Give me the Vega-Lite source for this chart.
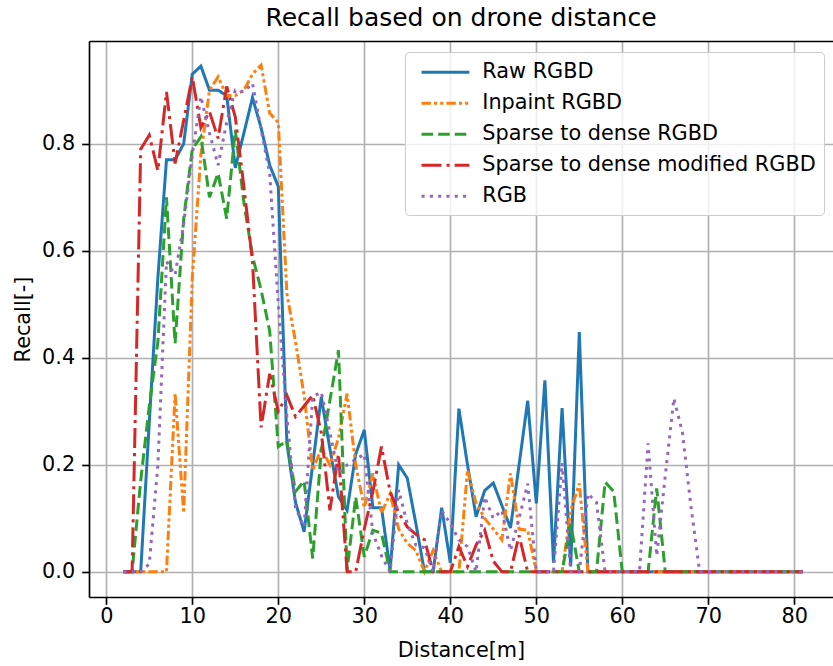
{
  "$schema": "https://vega.github.io/schema/vega-lite/v6.json",
  "width": 744,
  "height": 556,
  "autosize": {"type": "none"},
  "padding": {"left": 89, "top": 41, "right": 0, "bottom": 69},
  "background": "white",
  "title": {"text": "Recall based on drone distance", "font": "DejaVu Sans", "fontSize": 25, "fontWeight": "normal", "color": "black", "anchor": "middle", "frame": "group", "baseline": "alphabetic", "offset": 15, "dy": 25},
  "config": {
    "view": {"stroke": null},
    "axis": {"labelFont": "DejaVu Sans", "titleFont": "DejaVu Sans", "labelFontSize": 20.8, "titleFontSize": 20.8, "titleFontWeight": "normal", "labelColor": "black", "titleColor": "black", "domainColor": "black", "domainWidth": 1.67, "tickColor": "black", "tickWidth": 1.67, "tickSize": 7.3, "gridColor": "#b0b0b0", "gridWidth": 1.67, "gridOpacity": 1}
  },
  "data": {"values": [
    {"d":2,"Raw RGBD":0,"Inpaint RGBD":0,"Sparse to dense RGBD":0,"Sparse to dense modified RGBD":0,"RGB":0},
    {"d":3,"Raw RGBD":0,"Inpaint RGBD":0,"Sparse to dense RGBD":0,"Sparse to dense modified RGBD":0,"RGB":0},
    {"d":4,"Raw RGBD":0,"Inpaint RGBD":0,"Sparse to dense RGBD":0.17,"Sparse to dense modified RGBD":0.79,"RGB":0},
    {"d":5,"Raw RGBD":0.28,"Inpaint RGBD":0,"Sparse to dense RGBD":0.31,"Sparse to dense modified RGBD":0.816,"RGB":0.015},
    {"d":6,"Raw RGBD":0.55,"Inpaint RGBD":0,"Sparse to dense RGBD":0.43,"Sparse to dense modified RGBD":0.75,"RGB":0.2},
    {"d":7,"Raw RGBD":0.77,"Inpaint RGBD":0,"Sparse to dense RGBD":0.70,"Sparse to dense modified RGBD":0.897,"RGB":0.58},
    {"d":8,"Raw RGBD":0.77,"Inpaint RGBD":0.333,"Sparse to dense RGBD":0.427,"Sparse to dense modified RGBD":0.763,"RGB":0.555},
    {"d":9,"Raw RGBD":0.80,"Inpaint RGBD":0.11,"Sparse to dense RGBD":0.66,"Sparse to dense modified RGBD":0.844,"RGB":0.65},
    {"d":10,"Raw RGBD":0.93,"Inpaint RGBD":0.55,"Sparse to dense RGBD":0.79,"Sparse to dense modified RGBD":0.925,"RGB":0.78},
    {"d":11,"Raw RGBD":0.945,"Inpaint RGBD":0.78,"Sparse to dense RGBD":0.813,"Sparse to dense modified RGBD":0.83,"RGB":0.888},
    {"d":12,"Raw RGBD":0.90,"Inpaint RGBD":0.90,"Sparse to dense RGBD":0.70,"Sparse to dense modified RGBD":0.86,"RGB":0.82},
    {"d":13,"Raw RGBD":0.90,"Inpaint RGBD":0.925,"Sparse to dense RGBD":0.745,"Sparse to dense modified RGBD":0.81,"RGB":0.76},
    {"d":14,"Raw RGBD":0.89,"Inpaint RGBD":0.89,"Sparse to dense RGBD":0.66,"Sparse to dense modified RGBD":0.907,"RGB":0.84},
    {"d":15,"Raw RGBD":0.755,"Inpaint RGBD":0.89,"Sparse to dense RGBD":0.826,"Sparse to dense modified RGBD":0.85,"RGB":0.90},
    {"d":16,"Raw RGBD":0.82,"Inpaint RGBD":0.90,"Sparse to dense RGBD":0.69,"Sparse to dense modified RGBD":0.72,"RGB":0.897},
    {"d":17,"Raw RGBD":0.886,"Inpaint RGBD":0.93,"Sparse to dense RGBD":0.59,"Sparse to dense modified RGBD":0.58,"RGB":0.913},
    {"d":18,"Raw RGBD":0.83,"Inpaint RGBD":0.947,"Sparse to dense RGBD":0.527,"Sparse to dense modified RGBD":0.27,"RGB":0.826},
    {"d":19,"Raw RGBD":0.76,"Inpaint RGBD":0.857,"Sparse to dense RGBD":0.45,"Sparse to dense modified RGBD":0.37,"RGB":0.745},
    {"d":20,"Raw RGBD":0.72,"Inpaint RGBD":0.84,"Sparse to dense RGBD":0.234,"Sparse to dense modified RGBD":0.30,"RGB":0.5},
    {"d":21,"Raw RGBD":0.24,"Inpaint RGBD":0.52,"Sparse to dense RGBD":0.245,"Sparse to dense modified RGBD":0.33,"RGB":0.29},
    {"d":22,"Raw RGBD":0.13,"Inpaint RGBD":0.43,"Sparse to dense RGBD":0.15,"Sparse to dense modified RGBD":0.29,"RGB":0.12},
    {"d":23,"Raw RGBD":0.075,"Inpaint RGBD":0.33,"Sparse to dense RGBD":0.17,"Sparse to dense modified RGBD":0.31,"RGB":0.084},
    {"d":24,"Raw RGBD":0.2,"Inpaint RGBD":0.19,"Sparse to dense RGBD":0.025,"Sparse to dense modified RGBD":0.33,"RGB":0.327},
    {"d":25,"Raw RGBD":0.327,"Inpaint RGBD":0.23,"Sparse to dense RGBD":0.227,"Sparse to dense modified RGBD":0.26,"RGB":0.336},
    {"d":26,"Raw RGBD":0.23,"Inpaint RGBD":0.2,"Sparse to dense RGBD":0.32,"Sparse to dense modified RGBD":0.115,"RGB":0.26},
    {"d":27,"Raw RGBD":0.14,"Inpaint RGBD":0.25,"Sparse to dense RGBD":0.414,"Sparse to dense modified RGBD":0.22,"RGB":0.184},
    {"d":28,"Raw RGBD":0.115,"Inpaint RGBD":0.333,"Sparse to dense RGBD":0.003,"Sparse to dense modified RGBD":0,"RGB":0.2},
    {"d":29,"Raw RGBD":0.22,"Inpaint RGBD":0.2,"Sparse to dense RGBD":0.14,"Sparse to dense modified RGBD":0,"RGB":0.21},
    {"d":30,"Raw RGBD":0.265,"Inpaint RGBD":0.12,"Sparse to dense RGBD":0.028,"Sparse to dense modified RGBD":0.08,"RGB":0.22},
    {"d":31,"Raw RGBD":0.12,"Inpaint RGBD":0.184,"Sparse to dense RGBD":0.078,"Sparse to dense modified RGBD":0.15,"RGB":0.072},
    {"d":32,"Raw RGBD":0.12,"Inpaint RGBD":0.11,"Sparse to dense RGBD":0.072,"Sparse to dense modified RGBD":0.234,"RGB":0.03},
    {"d":33,"Raw RGBD":0.003,"Inpaint RGBD":0.146,"Sparse to dense RGBD":0,"Sparse to dense modified RGBD":0.15,"RGB":0},
    {"d":34,"Raw RGBD":0.2,"Inpaint RGBD":0.08,"Sparse to dense RGBD":0,"Sparse to dense modified RGBD":0.11,"RGB":0.153},
    {"d":35,"Raw RGBD":0.175,"Inpaint RGBD":0.053,"Sparse to dense RGBD":0,"Sparse to dense modified RGBD":0.084,"RGB":0.09},
    {"d":36,"Raw RGBD":0.09,"Inpaint RGBD":0.04,"Sparse to dense RGBD":0,"Sparse to dense modified RGBD":0.07,"RGB":0.05},
    {"d":37,"Raw RGBD":0,"Inpaint RGBD":0,"Sparse to dense RGBD":0,"Sparse to dense modified RGBD":0.06,"RGB":0.045},
    {"d":38,"Raw RGBD":0,"Inpaint RGBD":0.04,"Sparse to dense RGBD":0,"Sparse to dense modified RGBD":0,"RGB":0},
    {"d":39,"Raw RGBD":0.12,"Inpaint RGBD":0,"Sparse to dense RGBD":0,"Sparse to dense modified RGBD":0,"RGB":0.115},
    {"d":40,"Raw RGBD":0.017,"Inpaint RGBD":0,"Sparse to dense RGBD":0,"Sparse to dense modified RGBD":0,"RGB":0.09},
    {"d":41,"Raw RGBD":0.305,"Inpaint RGBD":0,"Sparse to dense RGBD":0,"Sparse to dense modified RGBD":0.047,"RGB":0.06},
    {"d":42,"Raw RGBD":0.2,"Inpaint RGBD":0.19,"Sparse to dense RGBD":0,"Sparse to dense modified RGBD":0.01,"RGB":0.047},
    {"d":43,"Raw RGBD":0.103,"Inpaint RGBD":0.128,"Sparse to dense RGBD":0,"Sparse to dense modified RGBD":0.05,"RGB":0},
    {"d":44,"Raw RGBD":0.152,"Inpaint RGBD":0.1,"Sparse to dense RGBD":0,"Sparse to dense modified RGBD":0.078,"RGB":0.14},
    {"d":45,"Raw RGBD":0.166,"Inpaint RGBD":0.08,"Sparse to dense RGBD":0,"Sparse to dense modified RGBD":0.02,"RGB":0.1},
    {"d":46,"Raw RGBD":0.124,"Inpaint RGBD":0.06,"Sparse to dense RGBD":0,"Sparse to dense modified RGBD":0,"RGB":0.115},
    {"d":47,"Raw RGBD":0.082,"Inpaint RGBD":0.184,"Sparse to dense RGBD":0,"Sparse to dense modified RGBD":0,"RGB":0.04},
    {"d":48,"Raw RGBD":0.2,"Inpaint RGBD":0.08,"Sparse to dense RGBD":0,"Sparse to dense modified RGBD":0.068,"RGB":0.1},
    {"d":49,"Raw RGBD":0.32,"Inpaint RGBD":0.078,"Sparse to dense RGBD":0,"Sparse to dense modified RGBD":0,"RGB":0.165},
    {"d":50,"Raw RGBD":0.128,"Inpaint RGBD":0,"Sparse to dense RGBD":0,"Sparse to dense modified RGBD":0,"RGB":0},
    {"d":51,"Raw RGBD":0.358,"Inpaint RGBD":0,"Sparse to dense RGBD":0,"Sparse to dense modified RGBD":0,"RGB":0},
    {"d":52,"Raw RGBD":0.017,"Inpaint RGBD":0,"Sparse to dense RGBD":0,"Sparse to dense modified RGBD":0,"RGB":0},
    {"d":53,"Raw RGBD":0.306,"Inpaint RGBD":0,"Sparse to dense RGBD":0,"Sparse to dense modified RGBD":0,"RGB":0.203},
    {"d":54,"Raw RGBD":0.01,"Inpaint RGBD":0.115,"Sparse to dense RGBD":0.09,"Sparse to dense modified RGBD":0,"RGB":0},
    {"d":55,"Raw RGBD":0.448,"Inpaint RGBD":0.165,"Sparse to dense RGBD":0,"Sparse to dense modified RGBD":0,"RGB":0},
    {"d":56,"Raw RGBD":0,"Inpaint RGBD":0,"Sparse to dense RGBD":0,"Sparse to dense modified RGBD":0,"RGB":0.146},
    {"d":57,"Raw RGBD":0,"Inpaint RGBD":0,"Sparse to dense RGBD":0,"Sparse to dense modified RGBD":0,"RGB":0.13},
    {"d":58,"Raw RGBD":0,"Inpaint RGBD":0,"Sparse to dense RGBD":0.168,"Sparse to dense modified RGBD":0,"RGB":0},
    {"d":59,"Raw RGBD":0,"Inpaint RGBD":0,"Sparse to dense RGBD":0.15,"Sparse to dense modified RGBD":0,"RGB":0},
    {"d":60,"Raw RGBD":0,"Inpaint RGBD":0,"Sparse to dense RGBD":0,"Sparse to dense modified RGBD":0,"RGB":0},
    {"d":61,"Raw RGBD":0,"Inpaint RGBD":0,"Sparse to dense RGBD":0,"Sparse to dense modified RGBD":0,"RGB":0},
    {"d":62,"Raw RGBD":0,"Inpaint RGBD":0,"Sparse to dense RGBD":0,"Sparse to dense modified RGBD":0,"RGB":0},
    {"d":63,"Raw RGBD":0,"Inpaint RGBD":0,"Sparse to dense RGBD":0,"Sparse to dense modified RGBD":0,"RGB":0.24},
    {"d":64,"Raw RGBD":0,"Inpaint RGBD":0,"Sparse to dense RGBD":0.156,"Sparse to dense modified RGBD":0,"RGB":0.03},
    {"d":65,"Raw RGBD":0,"Inpaint RGBD":0,"Sparse to dense RGBD":0,"Sparse to dense modified RGBD":0,"RGB":0.18},
    {"d":66,"Raw RGBD":0,"Inpaint RGBD":0,"Sparse to dense RGBD":0,"Sparse to dense modified RGBD":0,"RGB":0.324},
    {"d":67,"Raw RGBD":0,"Inpaint RGBD":0,"Sparse to dense RGBD":0,"Sparse to dense modified RGBD":0,"RGB":0.26},
    {"d":68,"Raw RGBD":0,"Inpaint RGBD":0,"Sparse to dense RGBD":0,"Sparse to dense modified RGBD":0,"RGB":0.12},
    {"d":69,"Raw RGBD":0,"Inpaint RGBD":0,"Sparse to dense RGBD":0,"Sparse to dense modified RGBD":0,"RGB":0},
    {"d":70,"Raw RGBD":0,"Inpaint RGBD":0,"Sparse to dense RGBD":0,"Sparse to dense modified RGBD":0,"RGB":0},
    {"d":71,"Raw RGBD":0,"Inpaint RGBD":0,"Sparse to dense RGBD":0,"Sparse to dense modified RGBD":0,"RGB":0},
    {"d":72,"Raw RGBD":0,"Inpaint RGBD":0,"Sparse to dense RGBD":0,"Sparse to dense modified RGBD":0,"RGB":0},
    {"d":73,"Raw RGBD":0,"Inpaint RGBD":0,"Sparse to dense RGBD":0,"Sparse to dense modified RGBD":0,"RGB":0},
    {"d":74,"Raw RGBD":0,"Inpaint RGBD":0,"Sparse to dense RGBD":0,"Sparse to dense modified RGBD":0,"RGB":0},
    {"d":75,"Raw RGBD":0,"Inpaint RGBD":0,"Sparse to dense RGBD":0,"Sparse to dense modified RGBD":0,"RGB":0},
    {"d":76,"Raw RGBD":0,"Inpaint RGBD":0,"Sparse to dense RGBD":0,"Sparse to dense modified RGBD":0,"RGB":0},
    {"d":77,"Raw RGBD":0,"Inpaint RGBD":0,"Sparse to dense RGBD":0,"Sparse to dense modified RGBD":0,"RGB":0},
    {"d":78,"Raw RGBD":0,"Inpaint RGBD":0,"Sparse to dense RGBD":0,"Sparse to dense modified RGBD":0,"RGB":0},
    {"d":79,"Raw RGBD":0,"Inpaint RGBD":0,"Sparse to dense RGBD":0,"Sparse to dense modified RGBD":0,"RGB":0},
    {"d":80,"Raw RGBD":0,"Inpaint RGBD":0,"Sparse to dense RGBD":0,"Sparse to dense modified RGBD":0,"RGB":0},
    {"d":81,"Raw RGBD":0,"Inpaint RGBD":0,"Sparse to dense RGBD":0,"Sparse to dense modified RGBD":0,"RGB":0}
  ]},
  "transform": [{"fold": ["Raw RGBD", "Inpaint RGBD", "Sparse to dense RGBD", "Sparse to dense modified RGBD", "RGB"], "as": ["series", "recall"]}],
  "resolve": {"axis": {"x": "independent"}},
  "layer": [
    {
      "mark": {"type": "line", "strokeWidth": 3, "clip": true},
      "encoding": {
        "x": {"field": "d", "type": "quantitative", "scale": {"domain": [-2.01, 84.5], "nice": false, "zero": false}, "axis": {"values": [0, 10, 20, 30, 40, 50, 60, 70, 80], "title": "Distance[m]", "titlePadding": 14, "labelPadding": 2}},
        "y": {"field": "recall", "type": "quantitative", "scale": {"domain": [-0.047, 0.992], "nice": false, "zero": false}, "axis": {"values": [0, 0.2, 0.4, 0.6, 0.8], "format": ".1f", "title": "Recall[-]", "titlePadding": 8, "labelPadding": 7}},
        "color": {"field": "series", "type": "nominal", "scale": {"domain": ["Raw RGBD", "Inpaint RGBD", "Sparse to dense RGBD", "Sparse to dense modified RGBD", "RGB"], "range": ["#1f77b4", "#ff7f0e", "#2ca02c", "#d62728", "#9467bd"]}, "legend": {"title": null, "orient": "none", "legendX": 316, "legendY": 11, "symbolType": "M-0.36,0L4.2,0", "symbolSize": 441, "symbolStrokeWidth": 3, "labelFont": "DejaVu Sans", "labelFontSize": 20.8, "labelColor": "black", "labelLimit": 600, "rowPadding": 9, "labelOffset": 45, "padding": 8.3, "fillColor": "rgba(255,255,255,0.8)", "strokeColor": "#cccccc", "cornerRadius": 4}},
        "strokeDash": {"field": "series", "type": "nominal", "scale": {"domain": ["Raw RGBD", "Inpaint RGBD", "Sparse to dense RGBD", "Sparse to dense modified RGBD", "RGB"], "range": [[1, 0], [9.4, 3.1, 3.1, 3.1, 3.1, 3.1], [11.6, 5], [20, 5, 3.1, 5], [3.1, 5.2]]}, "legend": {"title": null, "orient": "none", "legendX": 316, "legendY": 11}}
      }
    },
    {
      "mark": {"type": "line", "opacity": 0},
      "encoding": {
        "x": {"field": "d", "type": "quantitative", "axis": {"orient": "top", "labels": false, "ticks": false, "grid": false, "title": null, "domain": true, "minExtent": 0, "maxExtent": 0}},
        "y": {"field": "recall", "type": "quantitative"},
        "detail": {"field": "series"}
      }
    }
  ]
}
